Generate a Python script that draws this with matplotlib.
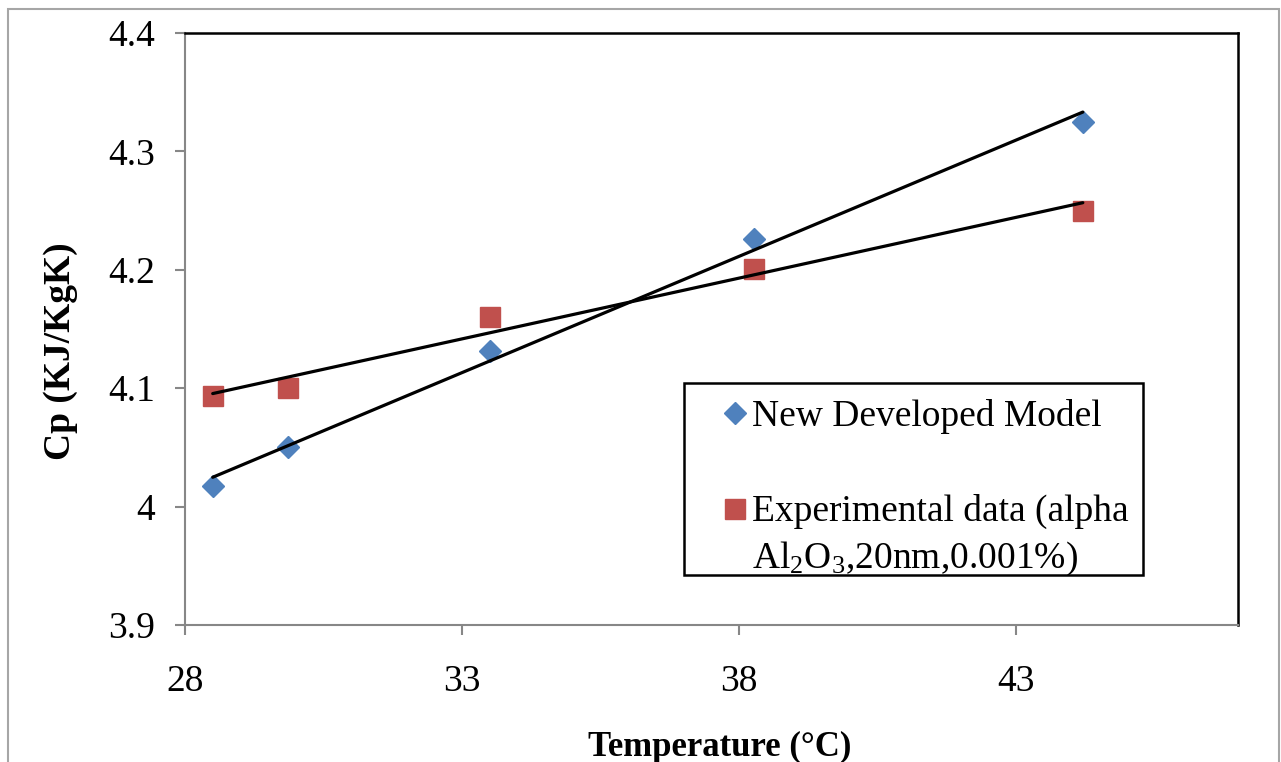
import numpy as np
import matplotlib
matplotlib.use("Agg")
import matplotlib.pyplot as plt
from matplotlib.patches import Rectangle
from matplotlib.ticker import FuncFormatter
from matplotlib.legend_handler import HandlerLine2D
from matplotlib.transforms import Affine2D

plt.rcParams['font.family'] = ['Liberation Serif', 'DejaVu Serif']
plt.rcParams['mathtext.fontset'] = 'custom'
plt.rcParams['mathtext.rm'] = 'Liberation Serif'
plt.rcParams['mathtext.it'] = 'Liberation Serif:italic'
plt.rcParams['mathtext.bf'] = 'Liberation Serif:bold'

# Data
temperature = [28.5, 29.85, 33.5, 38.27, 44.2]
model_cp = [4.017, 4.050, 4.131, 4.226, 4.325]
experimental_cp = [4.093, 4.100, 4.160, 4.201, 4.250]
series_labels = ["New Developed Model",
                 "Experimental data (alpha\nAl$_2$O$_3$,20nm,0.001%)"]
x_ticks = [28, 33, 38, 43]
y_ticks = [3.9, 4.0, 4.1, 4.2, 4.3, 4.4]

W, H = 1281, 762
fig = plt.figure(figsize=(W / 100, H / 100), dpi=100)
ax = fig.add_axes([185 / W, 1 - 625 / H, (1238 - 185) / W, (625 - 33) / H])

grey = '#878787'
blue = '#4F81BD'
red = '#C0504D'

# trend lines
for yv in (model_cp, experimental_cp):
    k, b = np.polyfit(temperature, yv, 1)
    xs = np.array([min(temperature), max(temperature)])
    ax.plot(xs, k * xs + b, color='black', lw=2.3, zorder=3, solid_capstyle='round')

h1, = ax.plot(temperature, model_cp, 'D', color=blue, ms=11.5, mec=blue, ls='none',
              label=series_labels[0], zorder=2)
h2, = ax.plot(temperature, experimental_cp, 's', color=red, ms=14, mec=red, ls='none',
              label=series_labels[1], zorder=2)

ax.set_xlim(28, 47)
ax.set_ylim(3.9, 4.4)
ax.set_xticks(x_ticks)
ax.set_yticks(y_ticks)
ax.yaxis.set_major_formatter(FuncFormatter(lambda v, p: f"{v:g}"))

for s in ('left', 'bottom'):
    ax.spines[s].set_color(grey)
    ax.spines[s].set_linewidth(1.5)
for s in ('top', 'right'):
    ax.spines[s].set_color('black')
    ax.spines[s].set_linewidth(1.8)

ax.tick_params(axis='both', direction='out', length=7.5, width=1.5, color=grey,
               labelsize=27, labelcolor='black')
ax.tick_params(axis='y', pad=14)
ax.tick_params(axis='x', pad=21)

ax.set_xlabel("Temperature (°C)", fontsize=25, fontweight='bold', labelpad=23)
ax.set_ylabel("Cp (KJ/KgK)", fontsize=27, fontweight='bold', labelpad=22)
ax.xaxis.label.set_x((720 - 185) / 1053)
ax.yaxis.label.set_y((625 - 351) / 592)


class HandlerTop(HandlerLine2D):
    def __init__(self, dy, **kw):
        super().__init__(**kw)
        self.dy = dy

    def create_artists(self, legend, orig_handle, xdescent, ydescent, width,
                       height, fontsize, trans):
        return super().create_artists(legend, orig_handle, xdescent, ydescent,
                                      width, height, fontsize,
                                      trans + Affine2D().translate(0, self.dy))


# legend frame
ax.add_patch(Rectangle(((684 - 185) / 1053, (625 - 575) / 592),
                       (1143 - 684) / 1053, (575 - 383) / 592,
                       transform=ax.transAxes, fill=True, facecolor='white',
                       edgecolor='black', lw=1.8, zorder=4))

leg = ax.legend(handles=[h1, h2], loc='upper left',
                bbox_to_anchor=((725.5 - 185) / 1053, (625 - 399) / 592),
                fontsize=27, frameon=False,
                handlelength=0.5, handletextpad=0.2, borderpad=0,
                labelspacing=1.6, borderaxespad=0, markerscale=1.0,
                handler_map={h2: HandlerTop(27)})
leg.set_zorder(5)
leg.get_texts()[1].set_linespacing(1.37)

# outer border
fig.patches.append(Rectangle((8 / W, -0.05), (1279 - 8) / W, 1.05 - 9 / H,
                             transform=fig.transFigure, fill=False,
                             edgecolor='#a6a6a6', lw=1.5))

fig.savefig("out.png", dpi=100)
